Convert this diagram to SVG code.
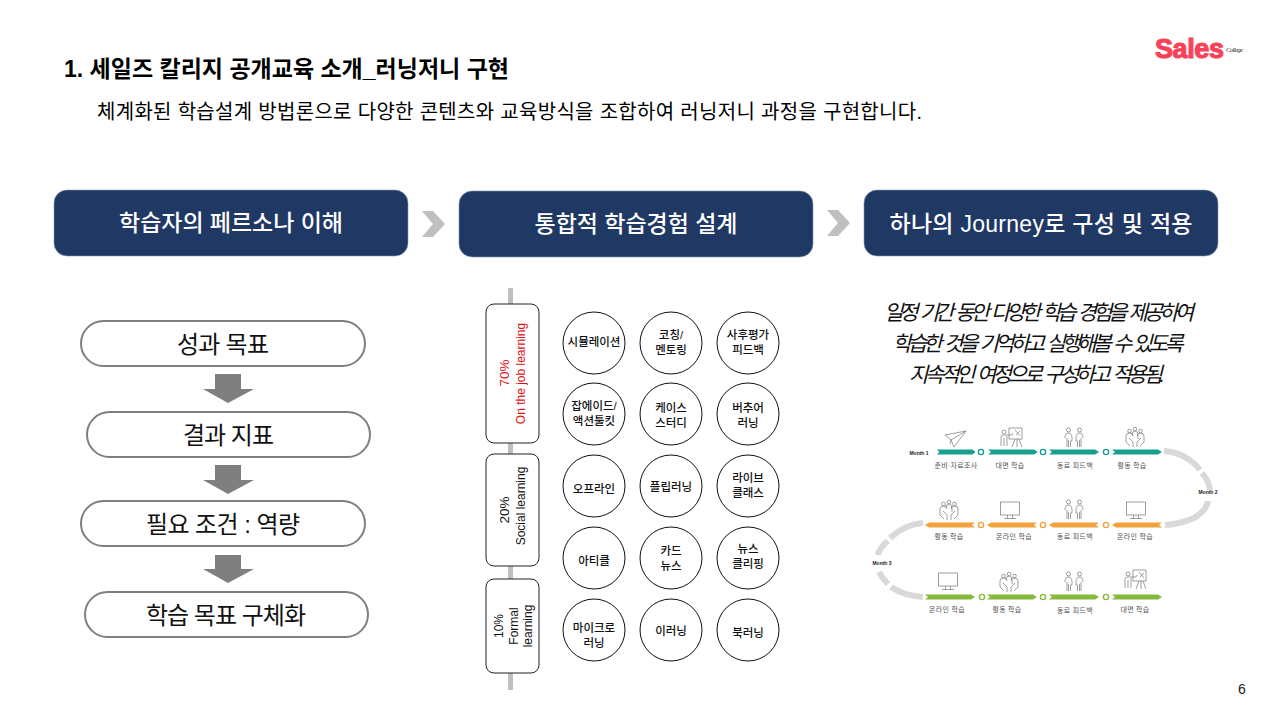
<svg xmlns="http://www.w3.org/2000/svg" width="1280" height="720" viewBox="0 0 1280 720">
<style>
text{font-family:"Liberation Sans","Noto Sans CJK KR",sans-serif;fill:#000}
.hd{fill:#1f3864;stroke:#8497b0;stroke-width:.6}
.hdt{font-size:23px;font-weight:500;fill:#fff;text-anchor:middle}
.chev{fill:#bfbfbf}
.pill{fill:#fff;stroke:#7f7f7f;stroke-width:2}
.pillt{font-size:24px;text-anchor:middle;fill:#111}
.arr{fill:#7f7f7f}
.box{fill:#fff;stroke:#222;stroke-width:1}
.cir{fill:#fff;stroke:#111;stroke-width:1}
.ct{font-size:11.5px;font-weight:500;text-anchor:middle;fill:#111}
.vt{font-size:12px;text-anchor:middle;fill:#111}
.pc{font-size:13.5px}
.red{fill:#e01010}
.it{font-size:21px;font-style:italic;text-anchor:middle;fill:#111;word-spacing:3px}
.m{font-size:5px;font-weight:700;text-anchor:middle;fill:#222}
.l{font-size:7px;letter-spacing:.3px;text-anchor:middle;fill:#555}
.curve{fill:none;stroke:#d9d9d9;stroke-width:6}
.ic{fill:none;stroke:#777;stroke-width:.7}
.rd{fill:#fff;stroke-width:1.4}
</style>
<defs>
<g id="i-monitor" class="ic"><rect x="-9.500" y="-8" width="19" height="13"/><path d="M-2.500 5V8.500M2.500 5V8.500M-6 8.500H6"/></g>
<g id="i-pair" class="ic"><circle cx="-5.500" cy="-9" r="2"/><circle cx="5.500" cy="-9" r="2"/><path d="M-9-1q0-5 3.500-5t3.500 5v3H-3.500V8M-7-1V8M-5.500 1V8M9-1q0-5-3.500-5t-3.500 5v3H3.500V8M7-1V8M5.500 1V8"/></g>
<g id="i-group" class="ic"><circle cx="-5.500" cy="-7" r="1.800"/><circle cx="0" cy="-9" r="1.800"/><circle cx="5.500" cy="-7" r="1.800"/><path d="M-9 4V-2Q-9-5-5.500-5-2-5-2-2M9 4V-2Q9-5 5.500-5 2-5 2-2M-3-3Q-3-7 0-7T3-3V1M-6 0-2 4V9M6 0 2 4V9M-9 4-5 8M9 4 5 8"/></g>
<g id="i-teach" class="ic"><rect x="-3" y="-11" width="13" height="11"/><circle cx="-8" cy="-7" r="2"/><path d="M-11 7V-2Q-11-4-8-4H0L1-6M-8-1V7M-5-3V7M3 0-0 8M5 0V8M7 0 10 8M3-9 8-3M4-4 8-8"/></g>
<g id="i-plane" class="ic"><path d="M-10-5 11-9-1 7-4 0Z M-4 0 11-9M-4 0-5 4"/></g>
<path id="seg-r" d="M0-2.500H46L50 0 46 2.500H0L3 0Z"/>
<path id="seg-l" d="M50-2.500H4L0 0 4 2.500H50L47 0Z"/>
</defs>

<g id="title"><text x="64" y="77" font-size="23" font-weight="700" textLength="445">1. 세일즈 칼리지 공개교육 소개_러닝저니 구현</text></g>
<g id="subtitle"><text x="97" y="119" font-size="20" textLength="825">체계화된 학습설계 방법론으로 다양한 콘텐츠와 교육방식을 조합하여 러닝저니 과정을 구현합니다.</text></g>
<g id="logo"><text x="1155" y="58" font-size="27" font-weight="700" style="fill:#f9425a;stroke:#f9425a;stroke-width:1.1" textLength="69">Sales</text><text x="1226" y="52" font-size="7" font-style="italic" textLength="17" style="font-family:'Liberation Serif',serif;fill:#333">College</text></g>
<g id="page"><text x="1238" y="694" font-size="14" style="fill:#222">6</text></g>

<g id="connectors">
<polygon class="chev" points="422,211 433,211 445,224 433,237 422,237 433,224"/>
<polygon class="chev" points="827,210 838,210 850,223 838,236 827,236 838,223"/>
<polygon class="arr" points="215,374 241,374 241,389 254,389 228,403 203,389 215,389"/>
<polygon class="arr" points="215,465 241,465 241,480 254,480 228,494 203,480 215,480"/>
<polygon class="arr" points="215,555 241,555 241,569 254,569 228,583 203,569 215,569"/>
<rect x="508" y="288" width="5" height="402" fill="#bfbfbf"/>
</g>

<g id="h1"><rect class="hd" x="54" y="190" width="354" height="66" rx="13"/><text class="hdt" x="231" y="231" textLength="224">학습자의 페르소나 이해</text></g>
<g id="h2"><rect class="hd" x="459" y="191" width="354" height="66" rx="13"/><text class="hdt" x="636" y="232" textLength="203">통합적 학습경험 설계</text></g>
<g id="h3"><rect class="hd" x="864" y="190" width="354" height="66" rx="13"/><text class="hdt" x="1041" y="232" textLength="303">하나의 Journey로 구성 및 적용</text></g>

<g id="p1"><rect class="pill" x="81" y="321" width="284" height="45" rx="22.500"/><text class="pillt" x="223" y="353" textLength="92">성과 목표</text></g>
<g id="p2"><rect class="pill" x="87" y="412" width="283" height="45" rx="22.500"/><text class="pillt" x="228.500" y="444" textLength="91">결과 지표</text></g>
<g id="p3"><rect class="pill" x="81" y="501" width="284" height="45" rx="22.500"/><text class="pillt" x="223" y="533" textLength="154">필요 조건 : 역량</text></g>
<g id="p4"><rect class="pill" x="85" y="592" width="283" height="45" rx="22.500"/><text class="pillt" x="226" y="624" textLength="160">학습 목표 구체화</text></g>

<g id="b70"><rect class="box" x="486" y="304" width="53" height="139" rx="8"/><text class="vt pc red" style="fill:#e01010" transform="translate(509,373) rotate(-90)">70%</text><text class="vt" style="fill:#e01010" transform="translate(525,373.500) rotate(-90)">On the job learning</text></g>
<g id="b20"><rect class="box" x="486" y="454" width="53" height="112" rx="8"/><text class="vt pc" transform="translate(509,510) rotate(-90)">20%</text><text class="vt" transform="translate(525,506) rotate(-90)">Social learning</text></g>
<g id="b10"><rect class="box" x="486" y="579" width="53" height="94" rx="8"/><text class="vt" transform="translate(503,626) rotate(-90)">10%</text><text class="vt" transform="translate(518,626) rotate(-90)">Formal</text><text class="vt" transform="translate(532,626) rotate(-90)">learning</text></g>

<g id="c11"><circle class="cir" cx="594" cy="343" r="31"/><text class="ct" x="594" y="346">시뮬레이션</text></g>
<g id="c12"><circle class="cir" cx="671" cy="343" r="31"/><text class="ct" x="671" y="339">코칭/</text><text class="ct" x="671" y="354">멘토링</text></g>
<g id="c13"><circle class="cir" cx="748" cy="343" r="31"/><text class="ct" x="748" y="339">사후평가</text><text class="ct" x="748" y="354">피드백</text></g>
<g id="c21"><circle class="cir" cx="594" cy="414" r="31"/><text class="ct" x="594" y="410">잡에이드/</text><text class="ct" x="594" y="425">액션툴킷</text></g>
<g id="c22"><circle class="cir" cx="671" cy="414" r="31"/><text class="ct" x="671" y="412">케이스</text><text class="ct" x="671" y="427">스터디</text></g>
<g id="c23"><circle class="cir" cx="748" cy="414" r="31"/><text class="ct" x="748" y="412">버추어</text><text class="ct" x="748" y="427">러닝</text></g>
<g id="c31"><circle class="cir" cx="594" cy="486" r="31"/><text class="ct" x="594" y="493">오프라인</text></g>
<g id="c32"><circle class="cir" cx="671" cy="486" r="31"/><text class="ct" x="671" y="491">플립러닝</text></g>
<g id="c33"><circle class="cir" cx="748" cy="486" r="31"/><text class="ct" x="748" y="482">라이브</text><text class="ct" x="748" y="497">클래스</text></g>
<g id="c41"><circle class="cir" cx="594" cy="558" r="31"/><text class="ct" x="594" y="565">아티클</text></g>
<g id="c42"><circle class="cir" cx="671" cy="558" r="31"/><text class="ct" x="671" y="555">카드</text><text class="ct" x="671" y="570">뉴스</text></g>
<g id="c43"><circle class="cir" cx="748" cy="558" r="31"/><text class="ct" x="748" y="553">뉴스</text><text class="ct" x="748" y="568">클리핑</text></g>
<g id="c51"><circle class="cir" cx="594" cy="630" r="31"/><text class="ct" x="594" y="632">마이크로</text><text class="ct" x="594" y="647">러닝</text></g>
<g id="c52"><circle class="cir" cx="671" cy="630" r="31"/><text class="ct" x="671" y="635">이러닝</text></g>
<g id="c53"><circle class="cir" cx="748" cy="630" r="31"/><text class="ct" x="748" y="637">북러닝</text></g>

<g id="desc">
<text class="it" x="1039" y="320" textLength="310">일정 기간 동안 다양한 학습 경험을 제공하여</text>
<text class="it" x="1038" y="351" textLength="291">학습한 것을 기억하고 실행해볼 수 있도록</text>
<text class="it" x="1037" y="382" textLength="256">지속적인 여정으로 구성하고 적용됨.</text>
</g>

<g id="journey">
<path class="curve" d="M1164 451Q1187 453 1200 470"/><path class="curve" d="M1202 473Q1209 481 1210 490"/><path class="curve" d="M1208 501Q1207 510 1194 518Q1180 524 1165 525"/>
<path class="curve" d="M923 523Q905 524 890 538"/><path class="curve" d="M888 541Q879 548 878 555"/><path class="curve" d="M879 572Q882 578 888 584"/><path class="curve" d="M891 587Q905 596 923 597"/>
<text class="m" x="919" y="455">Month 1</text><text class="m" x="1208" y="494">Month 2</text><text class="m" x="882" y="565">Month 3</text>

<g fill="#17a08e"><use href="#seg-r" transform="translate(937,452) scale(.77,1)"/><use href="#seg-r" transform="translate(988,452)"/><use href="#seg-r" transform="translate(1049,452)"/><use href="#seg-r" transform="translate(1112,452)"/></g>
<g fill="#fff" stroke="#17a08e"><circle class="rd" cx="981" cy="452" r="2.600"/><circle class="rd" cx="1043" cy="452" r="2.600"/><circle class="rd" cx="1106" cy="452" r="2.600"/></g>
<g fill="#f2a23c"><use href="#seg-l" transform="translate(925,525)"/><use href="#seg-l" transform="translate(987,525)"/><use href="#seg-l" transform="translate(1049,525)"/><use href="#seg-l" transform="translate(1112,525)"/></g>
<g fill="#fff" stroke="#f2a23c"><circle class="rd" cx="981" cy="525" r="2.600"/><circle class="rd" cx="1043" cy="525" r="2.600"/><circle class="rd" cx="1106" cy="525" r="2.600"/></g>
<g fill="#84b93c"><use href="#seg-r" transform="translate(925,597)"/><use href="#seg-r" transform="translate(987,597)"/><use href="#seg-r" transform="translate(1049,597)"/><use href="#seg-r" transform="translate(1112,597)"/></g>
<g fill="#fff" stroke="#84b93c"><circle class="rd" cx="982" cy="597" r="2.600"/><circle class="rd" cx="1043" cy="597" r="2.600"/><circle class="rd" cx="1106" cy="597" r="2.600"/></g>

<use href="#i-plane" x="955" y="440"/><use href="#i-teach" x="1012" y="439"/><use href="#i-pair" x="1074" y="439"/><use href="#i-group" x="1135" y="438"/>
<use href="#i-group" x="949" y="511"/><use href="#i-monitor" x="1010" y="510"/><use href="#i-pair" x="1074" y="511"/><use href="#i-monitor" x="1136" y="510"/>
<use href="#i-monitor" x="948" y="581"/><use href="#i-group" x="1009" y="583"/><use href="#i-pair" x="1074" y="583"/><use href="#i-teach" x="1136" y="581"/>

<text class="l" x="956" y="468">준비·자료조사</text><text class="l" x="1010" y="468">대면 학습</text><text class="l" x="1075" y="468">동료 피드백</text><text class="l" x="1132" y="468">활동 학습</text>
<text class="l" x="949" y="539">활동 학습</text><text class="l" x="1014" y="539">온라인 학습</text><text class="l" x="1075" y="539">동료 피드백</text><text class="l" x="1135" y="539">온라인 학습</text>
<text class="l" x="947" y="612">온라인 학습</text><text class="l" x="1007" y="612">활동 학습</text><text class="l" x="1075" y="613">동료 피드백</text><text class="l" x="1135" y="612">대면 학습</text>
</g>
</svg>
